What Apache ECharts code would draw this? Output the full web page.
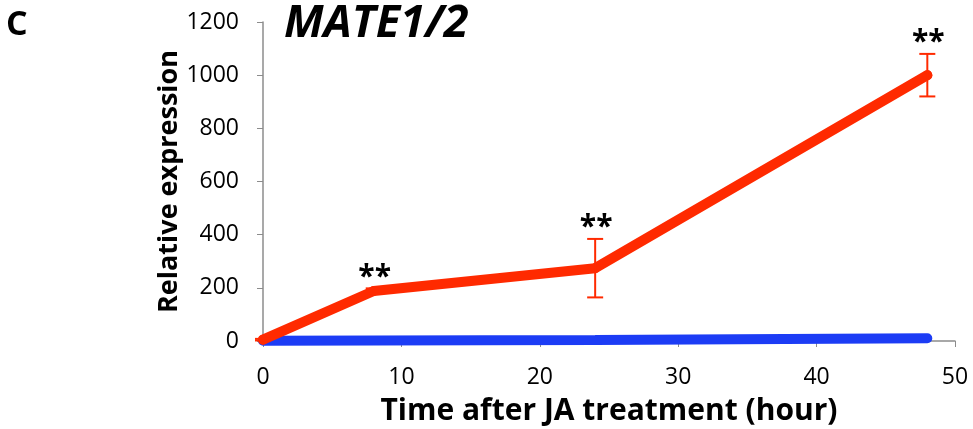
<!DOCTYPE html>
<html><head><meta charset="utf-8">
<script src="https://cdn.jsdelivr.net/npm/echarts@6/dist/echarts.min.js"></script>
<style>html,body{margin:0;padding:0;background:#fff}#c{width:973px;height:429px}</style>
</head><body><div id="c"></div>
<script>
const hours = [0, 8, 24, 48];
const jaValues = [5, 188, 274, 1000];
const jaErrors = [3, 10, 110, 80];
const controlValues = [1, 2, 4, 10];
const significance = ['', '**', '**', '**'];
const xTicks = [0, 10, 20, 30, 40, 50];
const yTicks = [0, 200, 400, 600, 800, 1000, 1200];

const font = '"Open Sans", "Liberation Sans", sans-serif';
const chart = echarts.init(document.getElementById('c'));
const errData = hours.map((h, i) => [h, jaValues[i] - jaErrors[i], jaValues[i] + jaErrors[i], significance[i]]);

chart.setOption({
  animation: false,
  graphic: [
    {type: 'text', x: 6, y: 8, style: {text: 'C', font: 'bold 34px ' + font, fill: '#000'}},
    {type: 'text', x: 284, y: 2, style: {text: 'MATE1/2', font: 'italic bold 45px ' + font, fill: '#000'}}
  ],
  grid: {left: 263, right: 18, top: 22, bottom: 88, outerBoundsMode: 'none', containLabel: false},
  xAxis: {
    type: 'value', min: xTicks[0], max: xTicks[xTicks.length - 1], interval: 10,
    name: 'Time after JA treatment (hour)', nameLocation: 'middle', nameGap: 55,
    nameMoveOverlap: false,
    nameTextStyle: {fontFamily: font, fontWeight: 'bold', fontSize: 30, color: '#000'},
    axisLine: {lineStyle: {color: '#8c8c8c', width: 1.5}},
    axisTick: {show: true, length: 6, lineStyle: {color: '#8c8c8c'}},
    axisLabel: {fontFamily: font, fontSize: 23, color: '#000', margin: 25},
    splitLine: {show: false}
  },
  yAxis: {
    type: 'value', min: yTicks[0], max: yTicks[yTicks.length - 1], interval: 200,
    name: 'Relative expression', nameLocation: 'middle', nameGap: 80,
    nameMoveOverlap: false,
    nameTextStyle: {fontFamily: font, fontWeight: 'bold', fontSize: 27, color: '#000'},
    axisLine: {show: true, lineStyle: {color: '#8c8c8c', width: 1.5}},
    axisTick: {show: true, length: 6, lineStyle: {color: '#8c8c8c'}},
    axisLabel: {fontFamily: font, fontSize: 23, color: '#000', margin: 24, formatter: v => String(v)},
    splitLine: {show: false}
  },
  series: [
    {
      type: 'line', data: hours.map((h, i) => [h, controlValues[i]]),
      symbol: 'none', lineStyle: {color: '#1c3cf5', width: 10, cap: 'round'}, z: 2
    },
    {
      type: 'line', data: hours.map((h, i) => [h, jaValues[i]]),
      symbol: 'circle', symbolSize: 10, itemStyle: {color: '#ff2a00'},
      lineStyle: {color: '#ff2a00', width: 10, cap: 'round', join: 'round'}, z: 3
    },
    {
      type: 'custom', z: 4, data: errData,
      renderItem: function (params, api) {
        const x = api.value(0);
        const lo = api.coord([x, api.value(1)]);
        const hi = api.coord([x, api.value(2)]);
        const w = 8;
        const st = {stroke: '#ff2a00', lineWidth: 2};
        const children = [
          {type: 'line', shape: {x1: lo[0], y1: lo[1], x2: hi[0], y2: hi[1]}, style: st},
          {type: 'line', shape: {x1: lo[0] - w, y1: lo[1], x2: lo[0] + w, y2: lo[1]}, style: st},
          {type: 'line', shape: {x1: hi[0] - w, y1: hi[1], x2: hi[0] + w, y2: hi[1]}, style: st}
        ];
        const sig = api.value(3);
        if (sig) {
          const p = api.coord([x, api.value(2)]);
          children.push({type: 'text', style: {text: sig, x: p[0] + 1, y: p[1] + 4, fontFamily: font, fontWeight: 'bold', fontSize: 30, fill: '#000', textAlign: 'center', textVerticalAlign: 'bottom'}});
        }
        return {type: 'group', children: children};
      }
    }
  ]
});
</script></body></html>
